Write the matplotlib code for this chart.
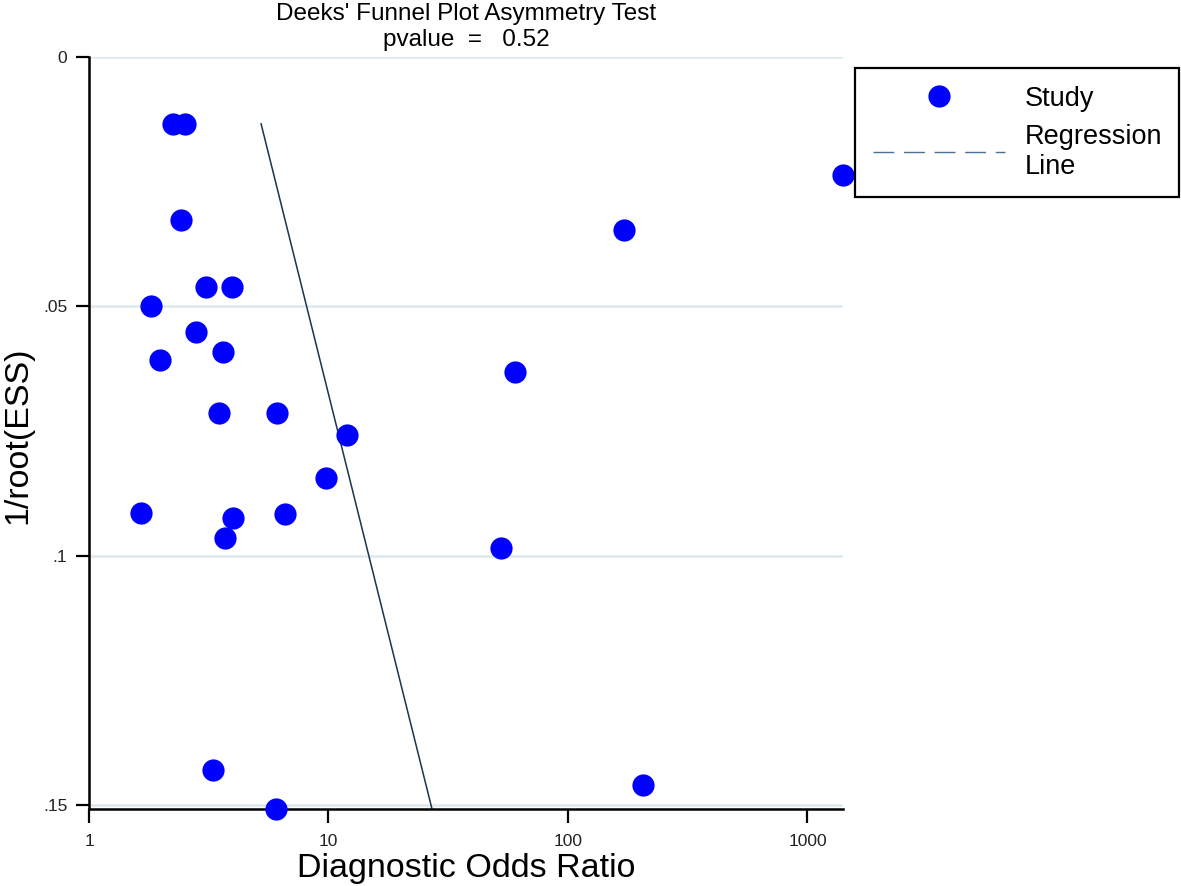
import matplotlib
matplotlib.use("Agg")
import matplotlib.pyplot as plt
from matplotlib.lines import Line2D
from matplotlib.ticker import FixedLocator, FixedFormatter, NullLocator

plt.rcParams['font.family'] = ['Liberation Sans', 'DejaVu Sans']

# Study values
dor = [2.24, 2.52, 2.42, 3.08, 3.96, 1.82, 2.80, 3.63, 1.98, 3.49, 6.10, 11.95,
       9.76, 1.65, 6.58, 3.99, 3.70, 52.5, 60.1, 171.0, 1407.0, 3.29, 6.04, 205.7]
inv_root_ess = [0.0134, 0.0134, 0.0327, 0.0461, 0.0461, 0.0499, 0.0551, 0.0592,
                0.0608, 0.0714, 0.0714, 0.0758, 0.0844, 0.0914, 0.0916, 0.0924,
                0.0965, 0.0985, 0.0632, 0.0347, 0.0237, 0.1430, 0.1508, 0.1460]

# regression line ends
reg_x = [5.23, 27.05]
reg_y = [0.0134, 0.1508]

y_ticks = [0, 0.05, 0.1, 0.15]
y_tick_labels = ["0", ".05", ".1", ".15"]
x_ticks = [1, 10, 100, 1000]
x_tick_labels = ["1", "10", "100", "1000"]

W, H = 1181, 886
fig = plt.figure(figsize=(W / 100, H / 100), dpi=100)
ax = fig.add_axes([89 / W, 77 / H, 754 / W, 752 / H])

grid_col = "#e0eaee"
for yt in y_ticks:
    ax.axhline(yt, color=grid_col, lw=2, zorder=0)

ax.plot(reg_x, reg_y, color="#17354f", lw=1.1, zorder=2)
ax.plot(dor, inv_root_ess, 'o', color="#0000ff", markersize=16,
        markeredgewidth=0, clip_on=False, zorder=3)

ax.set_xscale('log')
ax.set_xlim(1, 1407)
ax.set_ylim(0.1508, 0)

ax.xaxis.set_major_locator(FixedLocator(x_ticks))
ax.xaxis.set_major_formatter(FixedFormatter(x_tick_labels))
ax.xaxis.set_minor_locator(NullLocator())
ax.set_yticks(y_ticks)
ax.set_yticklabels(y_tick_labels)

for s in ['top', 'right']:
    ax.spines[s].set_visible(False)
for s in ['left', 'bottom']:
    ax.spines[s].set_linewidth(1.8)
    ax.spines[s].set_color('black')
ax.tick_params(axis='x', length=10, width=1.6, pad=8, labelsize=12.5, labelcolor='#222222')
ax.tick_params(axis='y', length=9.5, width=1.6, pad=6, labelsize=12.5, labelcolor='#222222')

# titles
fig.text(466 / W, 1 - 20 / H, "Deeks' Funnel Plot Asymmetry Test", ha='center',
         va='baseline', fontsize=17.5)
fig.text(466 / W, 1 - 46 / H, "pvalue  =   0.52", ha='center', va='baseline', fontsize=17.5)
fig.text(466 / W, 1 - 877 / H, "Diagnostic Odds Ratio", ha='center', va='baseline', fontsize=24.5)
fig.text(18 / W, 1 - 435 / H, "1/root(ESS)", ha='center', va='center', rotation=90, fontsize=24.5)

# legend
handles = [
    Line2D([], [], marker='o', color="#0000ff", linestyle='none', markersize=16,
           markeredgewidth=0),
    Line2D([], [], color="#4d6f94", lw=1.0, dashes=(15, 7)),
]
leg = fig.legend(handles, ["Study", "Regression\nLine"], loc='upper left',
                 bbox_to_anchor=(855 / W, 1 - 68 / H), borderaxespad=0,
                 fontsize=19.5, frameon=True, fancybox=False, framealpha=1,
                 edgecolor='black', handlelength=4.9, handletextpad=0.7,
                 borderpad=0.65, labelspacing=0.45)
leg.get_frame().set_linewidth(1.6)

fig.savefig("out.png", dpi=100)
